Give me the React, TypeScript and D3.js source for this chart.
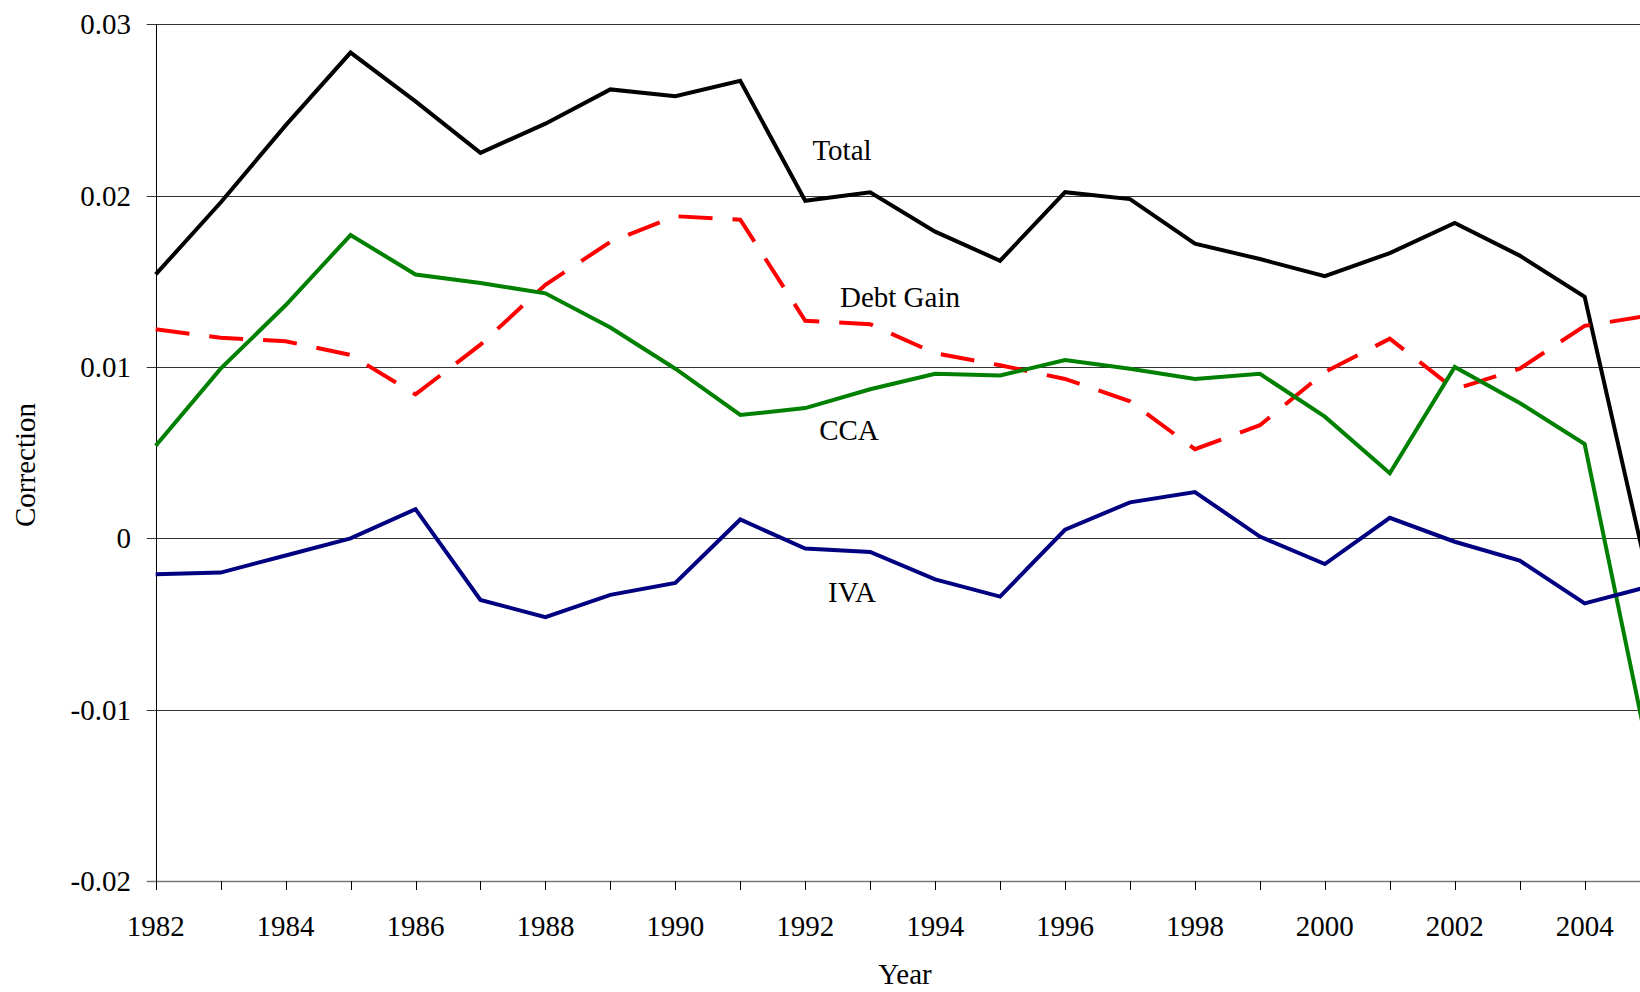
import React, { useEffect, useRef } from 'react';
import * as d3 from 'd3';

const years = d3.range(1982, 2006);
const total = [0.0154, 0.0196, 0.0241, 0.02835, 0.0255, 0.0225, 0.0242, 0.0262, 0.0258, 0.0267, 0.0197, 0.0202, 0.0179, 0.0162, 0.0202, 0.0198, 0.0172, 0.0163, 0.0153, 0.01665, 0.0184, 0.0165, 0.0141, -0.0026];
const debtGain = [0.0122, 0.0117, 0.0115, 0.0107, 0.0084, 0.0113, 0.0148, 0.0173, 0.0188, 0.0186, 0.0127, 0.0125, 0.0108, 0.0101, 0.0093, 0.0080, 0.0052, 0.0066, 0.0097, 0.01165, 0.0087, 0.0099, 0.0124, 0.0130];
const cca = [0.0054, 0.0099, 0.0136, 0.0177, 0.0154, 0.0149, 0.0143, 0.0123, 0.0099, 0.0072, 0.0076, 0.0087, 0.0096, 0.0095, 0.0104, 0.0099, 0.0093, 0.0096, 0.0071, 0.0038, 0.0100, 0.0079, 0.0055, -0.0128];
const iva = [-0.0021, -0.0020, -0.0010, 0.0000, 0.0017, -0.0036, -0.0046, -0.0033, -0.0026, 0.0011, -0.0006, -0.0008, -0.0024, -0.0034, 0.0005, 0.0021, 0.0027, 0.0001, -0.0015, 0.0012, -0.0002, -0.0013, -0.0038, -0.0028];
const yTicks = [-0.02, -0.01, 0, 0.01, 0.02, 0.03];
const yTickLabels = ['-0.02', '-0.01', '0', '0.01', '0.02', '0.03'];
const xLabelYears = d3.range(1982, 2006, 2);

const seriesList = [
  { name: 'Total', values: total, color: '#000000', dash: null, label: [842, 160] },
  { name: 'Debt Gain', values: debtGain, color: '#ff0000', dash: '34,20', label: [900, 307] },
  { name: 'CCA', values: cca, color: '#008000', dash: null, label: [849, 440] },
  { name: 'IVA', values: iva, color: '#000080', dash: null, label: [852, 602] },
];

export default function App() {
  const svgRef = useRef<SVGSVGElement>(null);

  useEffect(() => {
    document.body.style.margin = '0';
    if (!svgRef.current) return;
    const svg = d3.select(svgRef.current);
    svg.selectAll('*').remove();

    const font = '"Liberation Serif", "Times New Roman", serif';
    const fs = '29px';
    const x = d3.scaleLinear().domain([1982, 2005]).range([155.7, 1649.6]);
    const y = d3.scaleLinear().domain([-0.02, 0.03]).range([881, 24.3]);
    const left = x(1982);

    // gridlines
    svg.append('g')
      .selectAll('line')
      .data(yTicks)
      .enter()
      .append('line')
      .attr('x1', left - 9)
      .attr('x2', 1640)
      .attr('y1', d => Math.round(y(d)) + 0.5)
      .attr('y2', d => Math.round(y(d)) + 0.5)
      .style('stroke', d => (d === -0.02 ? '#777' : '#333'))
      .style('stroke-width', d => (d === -0.02 ? 1.5 : 1));

    // y axis line
    svg.append('line')
      .attr('x1', Math.round(left) + 0.5)
      .attr('x2', Math.round(left) + 0.5)
      .attr('y1', y(0.03))
      .attr('y2', y(-0.02) + 9)
      .style('stroke', '#000')
      .style('stroke-width', 1);

    // x ticks
    svg.append('g')
      .selectAll('line')
      .data(years)
      .enter()
      .append('line')
      .attr('x1', d => Math.round(x(d)) + 0.5)
      .attr('x2', d => Math.round(x(d)) + 0.5)
      .attr('y1', y(-0.02))
      .attr('y2', y(-0.02) + 9)
      .style('stroke', '#000')
      .style('stroke-width', 1);

    // y tick labels
    svg.append('g')
      .selectAll('text')
      .data(yTicks)
      .enter()
      .append('text')
      .attr('x', 131)
      .attr('y', d => y(d) + 10)
      .attr('text-anchor', 'end')
      .style('font-family', font)
      .style('font-size', fs)
      .text((d, i) => yTickLabels[i]);

    // x tick labels
    svg.append('g')
      .selectAll('text')
      .data(xLabelYears)
      .enter()
      .append('text')
      .attr('x', d => x(d))
      .attr('y', 936)
      .attr('text-anchor', 'middle')
      .style('font-family', font)
      .style('font-size', fs)
      .text(d => String(d));

    // axis titles
    svg.append('text')
      .attr('x', 905)
      .attr('y', 984)
      .attr('text-anchor', 'middle')
      .style('font-family', font)
      .style('font-size', fs)
      .text('Year');

    svg.append('text')
      .attr('transform', 'translate(35, 465) rotate(-90)')
      .attr('text-anchor', 'middle')
      .style('font-family', font)
      .style('font-size', fs)
      .text('Correction');

    // series
    const line = d3.line<number>()
      .x((d, i) => x(years[i]))
      .y(d => y(d));

    seriesList.forEach(s => {
      svg.append('path')
        .datum(s.values)
        .attr('d', line)
        .style('fill', 'none')
        .style('stroke', s.color)
        .style('stroke-width', 4)
        .style('stroke-linejoin', 'miter')
        .style('stroke-dasharray', s.dash ?? 'none');

      svg.append('text')
        .attr('x', s.label[0])
        .attr('y', s.label[1])
        .attr('text-anchor', 'middle')
        .style('font-family', font)
        .style('font-size', fs)
        .text(s.name);
    });
  }, []);

  return (
    <div style={{ position: 'absolute', left: 0, top: 0 }}>
      <svg ref={svgRef} width={1640} height={992} style={{ display: 'block', background: '#fff' }}></svg>
    </div>
  );
}
